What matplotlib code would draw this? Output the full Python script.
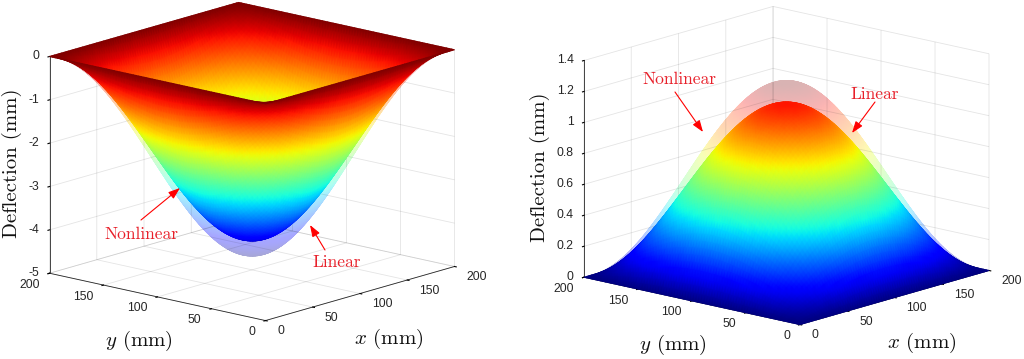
import numpy as np
import matplotlib
matplotlib.use("Agg")
import matplotlib.pyplot as plt
from matplotlib.colors import ListedColormap
from matplotlib.tri import Triangulation
from mpl_toolkits.mplot3d import proj3d

plt.rcParams["mathtext.fontset"] = "cm"
plt.rcParams["axes.unicode_minus"] = False
plt.rcParams["font.family"] = ["Liberation Sans", "DejaVu Sans"]

# Deflection shape along the plate, read every 2.5 mm from 0 to 100 mm (normalised), mirrored after
half_shape = [0, .0393, .0785, .1175, .1564, .1951, .2334, .2714, .3090, .3461,
              .3827, .4187, .4540, .4886, .5225, .5556, .5878, .6191, .6494, .6788,
              .7071, .7343, .7604, .7853, .8090, .8315, .8526, .8725, .8910, .9081,
              .9239, .9382, .9511, .9625, .9724, .9808, .9877, .9931, .9969, .9992, 1]

# Peak deflections (mm)
left_nonlinear = -4.3
left_linear = -4.65
right_linear = 1.1
right_nonlinear = 1.24

xy_ticks = [0, 50, 100, 150, 200]
left_zticks = [0, -1, -2, -3, -4, -5]
right_zticks = [0, 0.2, 0.4, 0.6, 0.8, 1, 1.2, 1.4]
right_zlabels = ["0", "0.2", "0.4", "0.6", "0.8", "1", "1.2", "1.4"]

shape = np.array(half_shape + half_shape[-2::-1])
grid = np.linspace(0, 200, len(shape))
X, Y = np.meshgrid(grid, grid)
plate = np.outer(shape, shape)
W, H = 1024, 359
P = 450
INK = "#262626"


def glass_cmap(alpha):
    # jet seen through on white, the triangles would show their seams with a real alpha
    rgb = plt.cm.jet(np.linspace(0, 1, 256))[:, :3]
    return ListedColormap(alpha * rgb + (1 - alpha))


def to_pixels(ax, xs, ys, zs):
    # project through the 3D axes, result is in picture pixels with y going down
    px, py, depth = proj3d.proj_transform(np.ravel(xs), np.ravel(ys), np.ravel(zs), ax.get_proj())
    disp = ax.transData.transform(np.column_stack([px, py]))
    return disp[:, 0], H - disp[:, 1], depth


def add_surface(target, ax, peak, clim, cmap="jet"):
    # gouraud triangles, painted back to front, so the colour runs smooth
    Z = peak * plate
    n = len(grid)
    px, py, depth = to_pixels(ax, X, Y, Z)
    i, j = np.meshgrid(np.arange(n - 1), np.arange(n - 1))
    a = (j * n + i).ravel()
    b = a + 1
    c = a + n
    d = c + 1
    tris = np.vstack([np.column_stack([a, b, d]), np.column_stack([a, d, c])])
    tris = tris[np.argsort(-depth[tris].mean(axis=1))]
    target.tripcolor(Triangulation(px, py, tris), Z.ravel(), shading="gouraud", cmap=cmap,
                     vmin=clim[0], vmax=clim[1])


def tick_texts(ax, zbase, zticks, zlabels):
    for v in xy_ticks:
        px, py, _ = to_pixels(ax, [v], [0], [zbase])
        over.text(px[0] + 12, py[0] + 10.5, str(v), ha="left", va="center", fontsize=8.7, color=INK)
        px, py, _ = to_pixels(ax, [0], [v], [zbase])
        over.text(px[0] - 10, py[0] + 11.5, str(v), ha="right", va="center", fontsize=8.7, color=INK)
    for v, lab in zip(zticks, zlabels):
        px, py, _ = to_pixels(ax, [0], [200], [v])
        over.text(px[0] - 10.5, py[0], lab, ha="right", va="center", fontsize=8.7, color=INK)


def setup_axes(cx, cy, zlim, zticks):
    # cx, cy is where the middle of the box falls, in picture pixels from the bottom left
    left = cx - 0.5135 * P
    bottom = cy - 0.5135 * P
    ax = fig.add_axes([left / W, bottom / H, P / W, P / H], projection="3d", proj_type="ortho")
    ax.patch.set_alpha(0)
    ax.view_init(elev=14.5, azim=221.2)
    ax.set_box_aspect((1, 1, 0.78), zoom=1.0)
    ax.set_xlim(0, 200)
    ax.set_ylim(0, 200)
    ax.set_zlim(*zlim)
    ax.set_xticks(xy_ticks)
    ax.set_yticks(xy_ticks)
    ax.set_zticks(zticks)
    ax.set_xticklabels([])
    ax.set_yticklabels([])
    ax.set_zticklabels([])
    for axis in (ax.xaxis, ax.yaxis, ax.zaxis):
        axis.set_pane_color((1, 1, 1, 0))
        axis.pane.set_edgecolor("none")
        axis.line.set_color(INK)
        axis.line.set_linewidth(0.6)
        axis._axinfo["grid"]["color"] = (0.15, 0.15, 0.15, 0.12)
        axis._axinfo["grid"]["linewidth"] = 0.6
        axis._axinfo["tick"]["color"] = INK
        axis._axinfo["tick"]["inward_factor"] = 0.1
        axis._axinfo["tick"]["outward_factor"] = 0.0
    ax.zaxis.set_ticks_position("upper")
    ax.apply_aspect()
    return ax


def pixel_axes(zorder):
    pane = fig.add_axes([0, 0, 1, 1], zorder=zorder)
    pane.set_xlim(0, W)
    pane.set_ylim(H, 0)
    pane.axis("off")
    return pane


fig = plt.figure(figsize=(W / 100, H / 100), dpi=100)

# glass surfaces under the grid, solid surfaces, labels and arrows above it
under = pixel_axes(-1)
ax1 = setup_axes(252, 197.5, (-5, 0), left_zticks)
ax2 = setup_axes(786.5, 193.5, (0, 1.4), right_zticks)
over = pixel_axes(5)

clim_left = (left_linear, 0)
clim_right = (0, right_nonlinear)
add_surface(under, ax1, left_linear, clim_left, glass_cmap(0.35))
add_surface(over, ax1, left_nonlinear, clim_left)
add_surface(under, ax2, right_nonlinear, clim_right, glass_cmap(0.3))
add_surface(over, ax2, right_linear, clim_right)

tick_texts(ax1, -5, left_zticks, [str(v) for v in left_zticks])
tick_texts(ax2, 0, right_zticks, right_zlabels)

serif = ["cmr10", "DejaVu Serif"]
for x, y, txt, rot in [(12, 163, "Deflection (mm)", 90), (540, 167, "Deflection (mm)", 90),
                       (139, 341, "$y$ (mm)", 0), (389, 339, "$x$ (mm)", 0),
                       (673, 345, "$y$ (mm)", 0), (922, 343, "$x$ (mm)", 0)]:
    over.text(x, y, txt, rotation=rot, ha="center", va="center", family=serif,
              fontsize=15, color="#111111")

for txt, tx, ty, sx, sy, ex, ey in [("Nonlinear", 141, 234, 141, 220, 180, 188),
                                    ("Linear", 337, 262, 325, 250, 310, 225),
                                    ("Nonlinear", 679, 79, 675, 92, 703, 132),
                                    ("Linear", 875, 94, 875, 102, 852, 133)]:
    over.text(tx, ty, txt, ha="center", va="center", family=serif, fontsize=12.5, color="#e8202a")
    over.annotate("", xy=(ex, ey), xytext=(sx, sy),
                  arrowprops=dict(arrowstyle="-|>,head_length=0.7,head_width=0.25", color="red",
                                  lw=0.8, shrinkA=0, shrinkB=0))

fig.savefig("out.png", dpi=100)
